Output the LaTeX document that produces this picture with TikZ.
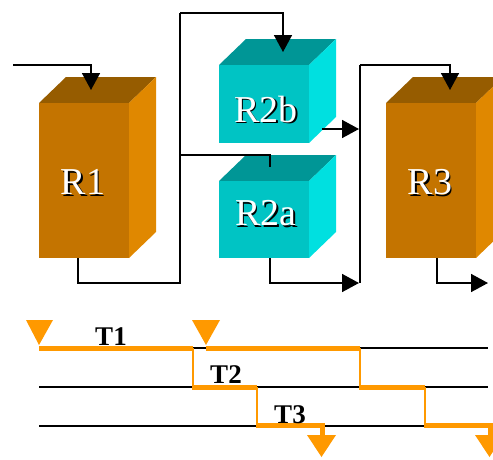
\documentclass[tikz,border=0pt]{standalone}
\usepackage{fontspec}
\setmainfont{Liberation Serif}
\usetikzlibrary{arrows.meta,calc}
\definecolor{brfront}{HTML}{C47400}
\definecolor{brtop}{HTML}{965C00}
\definecolor{brside}{HTML}{E08800}
\definecolor{tlfront}{HTML}{00C4C4}
\definecolor{tltop}{HTML}{009696}
\definecolor{tlside}{HTML}{00E0E0}
\definecolor{orng}{HTML}{FF9900}
% name, x0, y0, width, height, front, top, side
\newcommand\mkbox[8]{%
  \fill[#7] (#2,#3) -- ++(27,-26) -- (#2+#4+27,#3-26) -- (#2+#4,#3) -- cycle;
  \fill[#8] (#2+#4,#3) -- ++(27,-26) -- (#2+#4+27,#3+#5-26) -- (#2+#4,#3+#5) -- cycle;
  \node[face,fill=#6,minimum width=#4,minimum height=#5,anchor=north west] (#1) at (#2,#3) {};
}
\newcommand\shtext[1]{%
  \makebox[0pt][l]{\hspace{1.6pt}\raisebox{-1.6pt}{\color{black}#1}}{\color{white}#1}}
\begin{document}
\begin{tikzpicture}[x=1pt,y=-1pt,
  face/.style={draw=none,inner sep=0,outer sep=0},
  wire/.style={line width=1.6pt,black},
  arr/.style={wire,-{Triangle[length=17pt,width=18pt]}},
  lbl/.style={font=\fontsize{38}{38}\selectfont,inner sep=0},
  tlbl/.style={font=\bfseries\fontsize{27}{27}\selectfont,inner sep=0},
  tline/.style={line width=1.3pt,black},
  othick/.style={line width=5pt,orng},
  othin/.style={line width=2pt,orng},
  otri/.style={fill=orng}]
\useasboundingbox (0,0) rectangle (493,459);
\clip (0,0) rectangle (493,459);

% boxes
\mkbox{R1}{39}{103}{90}{155}{brfront}{brtop}{brside}
\mkbox{R2b}{219}{65}{90}{78}{tlfront}{tltop}{tlside}
\mkbox{R2a}{219}{181}{90}{77}{tlfront}{tltop}{tlside}
\mkbox{R3}{386}{103}{90}{155}{brfront}{brtop}{brside}

\node[lbl] (L1) at (83,183) {\shtext{R1}};
\node[lbl] (L2b) at (266,110) {\shtext{R2b}};
\node[lbl] (L2a) at (266,214) {\shtext{R2a}};
\node[lbl] (L3) at (430,183) {\shtext{R3}};

% connectors
\coordinate (in) at (13,65);
\coordinate (j1) at (180,283);
\coordinate (j2) at (180,155);
\coordinate (m1) at (360,283);
\coordinate (out) at (488,283);

\draw[arr] (in) -| ($(R1.north west)+(52,-13)$);
\draw[wire] ($(R1.south west)+(39,0)$) |- (j1) -- (180,13);
\draw[arr] (180,13) -| ($(R2b.north west)+(64,-13)$);
\draw[wire] (j2) -| ($(R2a.north west)+(51,-14)$);
\draw[arr] ($(R2b.south east)+(13,-14)$) -- (359,129);
\draw[arr] ($(R2a.south west)+(51,0)$) |- (359,283);
\draw[wire] (m1) -- (360,65);
\draw[arr] (360,65) -| ($(R3.north west)+(64,-13)$);
\draw[arr] ($(R3.south west)+(51,0)$) |- (out);

% timeline
\draw[tline] (39,348) -- (488,348);
\draw[tline] (39,387) -- (488,387);
\draw[tline] (39,426) -- (488,426);

\fill[otri] (26,320) -- (53,320) -- (39,345) -- cycle;
\draw[othick] (39,348) -- (193,348);
\draw[othin] (193,348) -- (193,387);
\draw[othick] (192,387) -- (257,387);
\draw[othin] (257,387) -- (257,425);
\draw[othick] (256,425) -- (322,425) -- (322,437);
\fill[otri] (307,435) -- (336,435) -- (321.5,457) -- cycle;

\fill[otri] (192,320) -- (220,320) -- (206,345) -- cycle;
\draw[othick] (206,348) -- (360,348);
\draw[othin] (360,348) -- (360,387);
\draw[othick] (359,387) -- (425,387);
\draw[othin] (425,387) -- (425,425);
\draw[othick] (424,425) -- (490,425) -- (490,437);
\fill[otri] (475,435) -- (504,435) -- (489.5,457) -- cycle;

\node[tlbl] (T1) at (111,337) {T1};
\node[tlbl] (T2) at (226,375) {T2};
\node[tlbl] (T3) at (290,415) {T3};
\end{tikzpicture}
\end{document}
